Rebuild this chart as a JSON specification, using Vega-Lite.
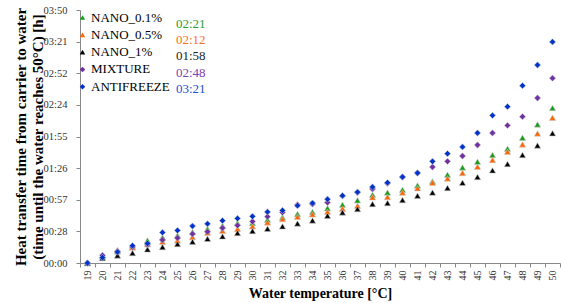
{
  "$schema": "https://vega.github.io/schema/vega-lite/v6.json",
  "width": 480,
  "height": 253,
  "autosize": "none",
  "padding": {"left": 80, "top": 10, "right": 1, "bottom": 40},
  "background": "white",
  "config": {
    "view": {"stroke": null},
    "font": "Liberation Serif"
  },
  "data": {
    "values": [
      {"T": 19, "N01": 0, "N05": 0, "N1": 0, "MIX": 0, "AF": 0},
      {"T": 20, "N01": 6, "N05": 7, "N1": 4.5, "MIX": 7, "AF": 5},
      {"T": 21, "N01": 10.5, "N05": 11.8, "N1": 6.9, "MIX": 10.6, "AF": 10},
      {"T": 22, "N01": 15, "N05": 14, "N1": 9.1, "MIX": 14.5, "AF": 15.7},
      {"T": 23, "N01": 20.5, "N05": 17, "N1": 12.4, "MIX": 16.6, "AF": 17.8},
      {"T": 24, "N01": 23.3, "N05": 19.4, "N1": 14.5, "MIX": 20.9, "AF": 27.8},
      {"T": 25, "N01": 25.1, "N05": 20.5, "N1": 17.3, "MIX": 22.7, "AF": 29.6},
      {"T": 26, "N01": 28.2, "N05": 23.6, "N1": 19.4, "MIX": 26.4, "AF": 33.6},
      {"T": 27, "N01": 31, "N05": 27.5, "N1": 22, "MIX": 28.3, "AF": 35.6},
      {"T": 28, "N01": 33.9, "N05": 29.4, "N1": 24.2, "MIX": 31.8, "AF": 38.5},
      {"T": 29, "N01": 36.4, "N05": 30.9, "N1": 27.3, "MIX": 34.2, "AF": 40.5},
      {"T": 30, "N01": 36.4, "N05": 33.3, "N1": 29.1, "MIX": 37.8, "AF": 42.4},
      {"T": 31, "N01": 39.4, "N05": 36.9, "N1": 31.2, "MIX": 42.1, "AF": 46.4},
      {"T": 32, "N01": 41.5, "N05": 40, "N1": 33.3, "MIX": 46, "AF": 47.8},
      {"T": 33, "N01": 44.5, "N05": 42.1, "N1": 36, "MIX": 53, "AF": 52.1},
      {"T": 34, "N01": 46.4, "N05": 44.2, "N1": 38.7, "MIX": 53.5, "AF": 54.5},
      {"T": 35, "N01": 49.8, "N05": 46.5, "N1": 43, "MIX": 55, "AF": 58},
      {"T": 36, "N01": 53, "N05": 49.4, "N1": 46, "MIX": 61, "AF": 61.2},
      {"T": 37, "N01": 57, "N05": 52.1, "N1": 49.1, "MIX": 64, "AF": 64.5},
      {"T": 38, "N01": 62, "N05": 59.7, "N1": 53.6, "MIX": 67.3, "AF": 69.1},
      {"T": 39, "N01": 64, "N05": 60, "N1": 54.5, "MIX": 72.5, "AF": 73},
      {"T": 40, "N01": 66.6, "N05": 64, "N1": 57.2, "MIX": 78.2, "AF": 78.2},
      {"T": 41, "N01": 70.5, "N05": 68, "N1": 61.2, "MIX": 82, "AF": 81.8},
      {"T": 42, "N01": 74.2, "N05": 73, "N1": 64, "MIX": 87.3, "AF": 92.4},
      {"T": 43, "N01": 80.3, "N05": 76.9, "N1": 68.2, "MIX": 92.4, "AF": 99.4},
      {"T": 44, "N01": 86.9, "N05": 81.8, "N1": 73, "MIX": 97.3, "AF": 105.5},
      {"T": 45, "N01": 92.1, "N05": 87.5, "N1": 78.2, "MIX": 107.3, "AF": 118.2},
      {"T": 46, "N01": 98.2, "N05": 93.6, "N1": 84.2, "MIX": 118.2, "AF": 134.2},
      {"T": 47, "N01": 103.9, "N05": 101.2, "N1": 90, "MIX": 125.1, "AF": 142.1},
      {"T": 48, "N01": 113.9, "N05": 107.8, "N1": 98.2, "MIX": 133, "AF": 161.2},
      {"T": 49, "N01": 126, "N05": 117.8, "N1": 106.9, "MIX": 150, "AF": 180},
      {"T": 50, "N01": 141, "N05": 132, "N1": 118, "MIX": 168, "AF": 201}
    ]
  },
  "transform": [
    {"fold": ["N01", "N05", "N1", "MIX", "AF"], "as": ["series", "minutes"]}
  ],
  "mark": {"type": "point", "filled": true, "size": 40, "opacity": 1, "stroke": "#c8c8c8", "strokeWidth": 0.8, "strokeOpacity": 0.7},
  "encoding": {
    "x": {
      "field": "T",
      "type": "ordinal",
      "scale": {"paddingInner": 0, "paddingOuter": 0},
      "axis": {
        "title": "Water temperature [°C]",
        "titleFont": "Liberation Serif",
        "titleFontSize": 14,
        "titleFontWeight": "bold",
        "titleColor": "#000",
        "titlePadding": 6,
        "labelAngle": 270,
        "labelFont": "Liberation Serif",
        "labelFontSize": 10,
        "labelColor": "#333",
        "labelPadding": 3,
        "tickBand": "extent",
        "tickSize": 4,
        "tickColor": "#888",
        "domainColor": "#888",
        "grid": false
      }
    },
    "y": {
      "field": "minutes",
      "type": "quantitative",
      "scale": {"domain": [0, 230], "nice": false},
      "axis": {
        "title": ["Heat transfer time from carrier to water", "(time until the water reaches 50°C) [h]"],
        "titleFont": "Liberation Serif",
        "titleFontSize": 15,
        "titleFontWeight": "bold",
        "titleColor": "#000",
        "titleLineHeight": 17,
        "titlePadding": -2,
        "values": [0, 28.75, 57.5, 86.25, 115, 143.75, 172.5, 201.25, 230],
        "labelExpr": "['00:00','00:28','00:57','01:26','01:55','02:24','02:52','03:21','03:50'][round(datum.value / 28.75)]",
        "labelFont": "Liberation Serif",
        "labelFontSize": 10.5,
        "labelColor": "#333",
        "labelPadding": 9,
        "tickSize": 4,
        "tickColor": "#888",
        "domainColor": "#888",
        "grid": false
      }
    },
    "color": {
      "field": "series",
      "type": "nominal",
      "scale": {
        "domain": ["N01", "N05", "N1", "MIX", "AF"],
        "range": ["#1a9c1a", "#ff6600", "#000000", "#7030a0", "#0033cc"]
      },
      "legend": {
        "orient": "top-left",
        "offset": -4,
        "padding": 0,
        "title": " ",
        "titleFontSize": 1,
        "titlePadding": 4,
        "labelExpr": "{'N01':'NANO_0.1%','N05':'NANO_0.5%','N1':'NANO_1%','MIX':'MIXTURE','AF':'ANTIFREEZE'}[datum.value]",
        "labelFont": "Liberation Serif",
        "labelFontSize": 13,
        "labelColor": "#000",
        "labelOffset": 2,
        "symbolSize": 30,
        "symbolStrokeWidth": 0,
        "rowPadding": 3.3
      }
    },
    "shape": {
      "field": "series",
      "type": "nominal",
      "scale": {
        "domain": ["N01", "N05", "N1", "MIX", "AF"],
        "range": ["triangle-up", "triangle-up", "triangle-up", "diamond", "diamond"]
      }
    },
    "opacity": {
      "field": "series",
      "type": "nominal",
      "scale": {
        "domain": ["N01", "N05", "N1", "MIX", "AF"],
        "range": [1, 1, 1, 1, 1]
      },
      "legend": {
        "orient": "none",
        "legendX": 83,
        "legendY": 7,
        "padding": 0,
        "title": null,
        "labelExpr": "{'N01':'02:21','N05':'02:12','N1':'01:58','MIX':'02:48','AF':'03:21'}[datum.value]",
        "labelFont": "Liberation Serif",
        "labelFontSize": 13,
        "labelColor": {"expr": "datum.value == 'N01' ? '#2ca02c' : datum.value == 'N05' ? '#ff7020' : datum.value == 'N1' ? '#222222' : datum.value == 'MIX' ? '#8040b0' : '#2050d0'"},
        "labelOffset": 0,
        "symbolSize": 0,
        "symbolOpacity": 0,
        "symbolStrokeWidth": 0,
        "rowPadding": 2.4
      }
    }
  }
}
